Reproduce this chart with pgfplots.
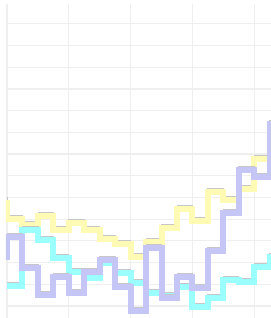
\documentclass[border=0pt]{standalone}
\usepackage{pgfplots}
\pgfplotsset{compat=1.18}
\usepackage{pgfplotstable}
\definecolor{cyel}{HTML}{FFFAB4}
\definecolor{ccya}{HTML}{9CFFFF}
\definecolor{clav}{HTML}{C6C6F6}
\definecolor{cgrid}{HTML}{EFEFEF}
% y values are given as height above the bottom (318 - pixel row)
\pgfplotstableread{
x y
0 118
1 99
2 93
3 102
4 88
5 95
6 88
7 79
8 74
9 61
10 76
11 90
12 109
13 97
14 126
15 118
16 129
17 159
18 159
}\yellowdata
\pgfplotstableread{
x y
0 32
1 32
2 88
3 78
4 60
5 46
6 40
7 55
8 45
9 35
10 25
11 22
12 31
13 11
14 20
15 38
16 36
17 51
18 61
}\cyandata
\pgfplotstableread{
x y
0 58
1 81
2 50
3 23
4 41
5 25
6 46
7 58
8 31
9 7
10 70
11 20
12 41
13 30
14 67
15 105
16 148
17 141
18 194
}\lavdata
\begin{document}
\begin{tikzpicture}
\begin{axis}[
  scale only axis,
  width=265bp, height=314bp,
  xmin=-0.065, xmax=17.087,
  ymin=0, ymax=314,
  axis line style={draw=none},
  xtick={0,4,8,12,16},
  ytick={12,33.7,55.4,77.1,98.8,120.5,142.2,163.9,185.6,207.3,229,250.7,272.4,294.1},
  xticklabels={}, yticklabels={},
  major tick length=0pt,
  grid=major,
  major grid style={draw=cgrid, line width=1.2bp},
  clip=true,
]
\addplot[const plot mark right, draw=gray!45, line width=0.8bp, yshift=3.4bp] table[x=x,y=y] {\yellowdata};
\addplot[const plot mark right, draw=cyel, line width=6bp] table[x=x,y=y] {\yellowdata};
\addplot[const plot mark right, draw=gray!45, line width=0.8bp, yshift=3.4bp] table[x=x,y=y] {\cyandata};
\addplot[const plot mark right, draw=ccya, line width=6bp] table[x=x,y=y] {\cyandata};
\addplot[const plot mark right, draw=gray!45, line width=0.8bp, yshift=3.4bp] table[x=x,y=y] {\lavdata};
\addplot[const plot mark right, draw=clav, line width=6bp] table[x=x,y=y] {\lavdata};
\end{axis}
\path (current axis.south west) ++(-6bp,0) coordinate (bbl);
\path (current axis.north east) ++(0,4bp) coordinate (bbr);
\pgfresetboundingbox
\useasboundingbox (bbl) rectangle (bbr);
\end{tikzpicture}
\end{document}
